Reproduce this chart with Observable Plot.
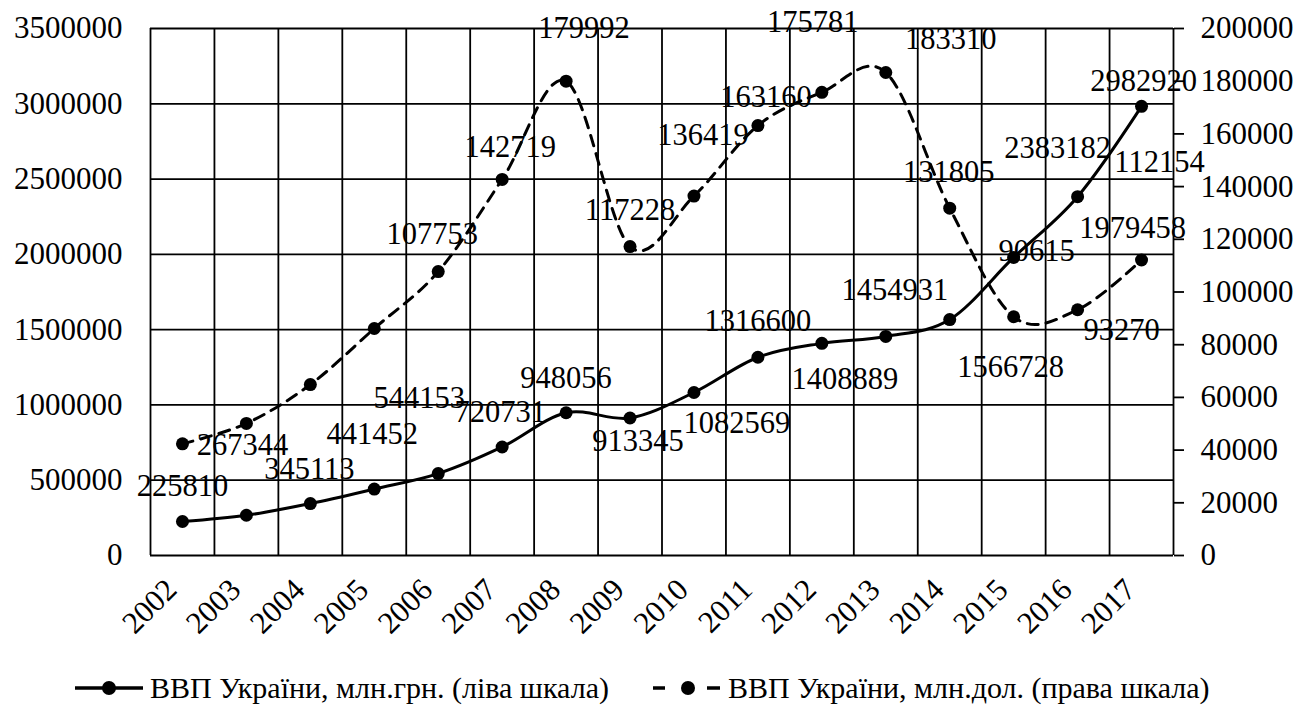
<!DOCTYPE html>
<html><head><meta charset="utf-8">
<script src="https://cdn.jsdelivr.net/npm/d3@7"></script>
<script src="https://cdn.jsdelivr.net/npm/@observablehq/plot@0.6"></script>
<style>
body{margin:0;background:#fff;font-family:"Liberation Serif",Tinos,"Times New Roman","Nimbus Roman","DejaVu Serif",serif;}
#chart{position:relative;width:1313px;height:707px;overflow:hidden;}
.leg{position:absolute;top:670px;height:36px;display:flex;align-items:center;font-size:30px;color:#000;white-space:nowrap;}
.leg svg{margin-right:7px;}
</style></head><body><div id="chart"></div>
<script>
const years = [2002,2003,2004,2005,2006,2007,2008,2009,2010,2011,2012,2013,2014,2015,2016,2017];
const gdpUah = [225810,267344,345113,441452,544153,720731,948056,913345,1082569,1316600,1408889,1454931,1566728,1979458,2383182,2982920];
const gdpUsd = [42393,50133,64883,86142,107753,142719,179992,117228,136419,163160,175781,183310,131805,90615,93270,112154];
const leftTicks = [0,500000,1000000,1500000,2000000,2500000,3000000,3500000];
const rightTicks = [0,20000,40000,60000,80000,100000,120000,140000,160000,180000,200000];
const seriesNames = ["ВВП України, млн.грн. (ліва шкала)", "ВВП України, млн.дол. (права шкала)"];
// data-label offsets in px relative to each point (layout only)
const uahLabelOffset = [[0,-35],[-4,-70],[-1,-34],[-2,-55],[-19,-75],[-2,-35],[0,-35],[8,23],[43,31],[0,-36],[23,36],[9,-46],[61,48],[119,-29],[-20,-48],[2,-25]];
const usdLabelOffset = [null,null,null,null,[-6,-37],[8,-32],[18,-53],[0,-36],[9,-61],[8,-28],[-9,-70],[65,-33],[-1,-36],[23,-65],[44,21],[18,-98]];

const k = leftTicks[leftTicks.length-1] / rightTicks[rightTicks.length-1];
const fmt = d3.format("d");
const uah = years.map((year,i)=>({year, value: gdpUah[i], raw: gdpUah[i], off: uahLabelOffset[i]}));
const usd = years.map((year,i)=>({year, value: gdpUsd[i]*k, raw: gdpUsd[i], off: usdLabelOffset[i]}));
const bounds = years.map(y=>y-0.5).concat([years[years.length-1]+0.5]);
const FONT = '"Liberation Serif", Tinos, "Times New Roman", "Nimbus Roman", "DejaVu Serif", serif';

const labelMarks = [];
for (const row of uah.concat(usd)) {
  if (!row.off) continue;
  labelMarks.push(Plot.text([row], {x:"year", y:"value", text: r=>fmt(r.raw), dx: row.off[0], dy: row.off[1], fontSize: 30.5, fill:"#000", fontFamily: FONT}));
}

const chart = Plot.plot({
  width:1313, height:640,
  marginTop:28, marginRight:140, marginBottom:85, marginLeft:150,
  style:{fontFamily:FONT, fontSize:"31px", color:"#000", background:"#fff"},
  x:{type:"linear", domain:[years[0]-0.5, years[years.length-1]+0.5], axis:null},
  y:{domain:[leftTicks[0], leftTicks[leftTicks.length-1]], axis:null},
  marks:[
    Plot.ruleY(leftTicks, {stroke:"#000", strokeWidth:1.8}),
    Plot.ruleX(bounds, {stroke:"#000", strokeWidth:1.8}),
    Plot.axisY(leftTicks, {anchor:"left", tickSize:0, tickPadding:28, tickFormat:fmt, label:null, fontSize:31, fontFamily: FONT}),
    Plot.axisY(rightTicks.map(v=>v*k), {anchor:"right", tickSize:10, tickPadding:17, tickFormat:v=>fmt(Math.round(v/k)), label:null, fontSize:31, strokeWidth:1.8, fontFamily: FONT}),
    Plot.text(years, {x:d=>d, text:d=>String(d), frameAnchor:"bottom", rotate:-45, textAnchor:"end", dx:-4, dy:36, fontSize:31, fill:"#000", fontFamily: FONT}),
    Plot.line(usd, {x:"year", y:"value", curve:"cardinal", stroke:"#000", strokeWidth:3, strokeDasharray:"11,8"}),
    Plot.line(uah, {x:"year", y:"value", curve:"cardinal", stroke:"#000", strokeWidth:3}),
    Plot.dot(uah, {x:"year", y:"value", r:6.5, fill:"#000", stroke:null}),
    Plot.dot(usd, {x:"year", y:"value", r:6.5, fill:"#000", stroke:null}),
    ...labelMarks
  ]
});
const root = document.getElementById("chart");
root.appendChild(chart);

function legendItem(left, name, dashed) {
  const div = document.createElement("div");
  div.className = "leg";
  div.style.left = left + "px";
  div.style.fontFamily = FONT;
  const w = 68;
  const sample = dashed
    ? `<svg width="${w}" height="36"><line x1="0" y1="18" x2="12" y2="18" stroke="#000" stroke-width="3.5"/><line x1="54" y1="18" x2="67" y2="18" stroke="#000" stroke-width="3.5"/><circle cx="35" cy="18" r="7" fill="#000"/></svg>`
    : `<svg width="${w}" height="36"><line x1="0" y1="18" x2="${w}" y2="18" stroke="#000" stroke-width="3.5"/><circle cx="34" cy="18" r="7" fill="#000"/></svg>`;
  div.innerHTML = sample + `<span>${name}</span>`;
  root.appendChild(div);
}
legendItem(75, seriesNames[0], false);
legendItem(653, seriesNames[1], true);
</script>
</body></html>
